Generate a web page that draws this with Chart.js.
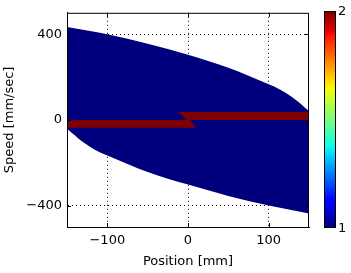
<!DOCTYPE html>
<html>
<head>
<meta charset="UTF-8">
<title>Phase plot</title>
<style>
    body { margin: 0; background: #fff; }
    .wrap { position: relative; width: 351px; height: 273px; }
    #chart { position: absolute; left: 0; top: 0; }
    .cbar {
        position: absolute;
        left: 324px; top: 11px; width: 12px; height: 217px;
        box-sizing: border-box;
        border: 1px solid #000;
        background: linear-gradient(to top, #00007f 0%, #0000ff 11%, #0000ff 12.5%, #00dbff 34%, #0bffeb 37.5%, #eeff08 64%, #ffec00 66%, #ff1300 89%, #e80000 91%, #7f0000 100%);
    }
    .cbar-label {
        position: absolute;
        left: 338px;
        font: 13px 'DejaVu Sans', sans-serif;
        line-height: 15px;
        color: #000;
    }
</style>
<script src="https://cdn.jsdelivr.net/npm/chart.js"></script>
</head>
<body>
<div class="wrap">
    <canvas id="chart" width="351" height="273"></canvas>
    <div class="cbar"></div>
</div>
<script>
// values
const xTicks = [-100, 0, 100];
const yTicks = [-400, 0, 400];
const cbarTicks = [1, 2];

// upper edge of the region
const upperPos = [-150, -100, -50, 0, 50, 100, 115, 128, 137, 143, 147, 149, 150];
const upperSpeed = [434, 400, 355, 304, 243, 166, 140, 109, 83, 64, 51, 44, 37];

// lower edge of the region
const lowerPos = [-150, -149, -147, -143, -137, -128, -115, -100, -50, 0, 50, 100, 150];
const lowerSpeed = [-37, -44, -51, -64, -83, -109, -140, -166, -243, -302, -355, -400, -437];

// value-2 bands (corners)
const leftBandPos = [-150, -150, 2, 10];
const leftBandSpeed = [-37, 0, 0, -37];
const rightBandPos = [-12, -2, 150, 150];
const rightBandSpeed = [37, 0, 0, 37];

const NAVY = '#00007f';
const DARKRED = '#7f0000';
const FONT = "'DejaVu Sans', sans-serif";

function pts(xs, ys) {
    return xs.map((x, i) => ({ x: x, y: ys[i] }));
}

function fmt(v) {
    return v < 0 ? '\u2212' + Math.abs(v) : String(v);
}

// box and inward tick marks like the original plot
const frame = {
    id: 'frame',
    afterDraw(chart) {
        const { ctx, chartArea: a, scales } = chart;
        ctx.save();
        ctx.strokeStyle = '#000';
        ctx.lineWidth = 1;
        ctx.strokeRect(a.left + 0.5, a.top + 0.5, a.right - a.left - 1, a.bottom - a.top);
        ctx.beginPath();
        xTicks.forEach(v => {
            const p = Math.round(scales.x.getPixelForValue(v)) + 0.5;
            ctx.moveTo(p, a.bottom); ctx.lineTo(p, a.bottom - 4);
            ctx.moveTo(p, a.top); ctx.lineTo(p, a.top + 4);
        });
        yTicks.forEach(v => {
            const p = Math.round(scales.y.getPixelForValue(v)) + 0.5;
            ctx.moveTo(a.left, p); ctx.lineTo(a.left + 4, p);
            ctx.moveTo(a.right, p); ctx.lineTo(a.right - 4, p);
        });
        ctx.stroke();
        ctx.restore();
    }
};

new Chart(document.getElementById('chart'), {
    type: 'line',
    data: {
        datasets: [
            {
                data: pts(upperPos, upperSpeed),
                borderWidth: 0,
                pointRadius: 0,
                cubicInterpolationMode: 'monotone',
                fill: false,
                order: 1
            },
            {
                data: pts(lowerPos, lowerSpeed),
                borderWidth: 0,
                pointRadius: 0,
                cubicInterpolationMode: 'monotone',
                fill: { target: '-1', above: NAVY, below: NAVY },
                backgroundColor: NAVY,
                order: 1
            },
            {
                data: pts(leftBandPos, leftBandSpeed),
                borderWidth: 0,
                pointRadius: 0,
                fill: 'shape',
                backgroundColor: DARKRED,
                order: 0
            },
            {
                data: pts(rightBandPos, rightBandSpeed),
                borderWidth: 0,
                pointRadius: 0,
                fill: 'shape',
                backgroundColor: DARKRED,
                order: 0
            }
        ]
    },
    options: {
        responsive: false,
        animation: false,
        devicePixelRatio: 1,
        layout: { padding: { left: 0, top: 11, right: 42, bottom: 0 } },
        plugins: {
            legend: { display: false },
            tooltip: { enabled: false }
        },
        scales: {
            x: {
                type: 'linear',
                min: -150,
                max: 150,
                z: 1,
                afterBuildTicks: s => { s.ticks = xTicks.map(v => ({ value: v })); },
                afterFit: s => { s.height = 46; },
                ticks: {
                    color: '#000',
                    font: { family: FONT, size: 13 },
                    padding: 6,
                    maxRotation: 0,
                    callback: v => fmt(v)
                },
                grid: { color: '#000', lineWidth: 1, drawTicks: false },
                border: { color: '#000', dash: [1, 3] },
                title: {
                    display: true,
                    text: 'Position [mm]',
                    color: '#000',
                    font: { family: FONT, size: 13 },
                    padding: { top: 0, bottom: 4 }
                }
            },
            y: {
                type: 'linear',
                min: -500,
                max: 500,
                z: 1,
                afterBuildTicks: s => { s.ticks = yTicks.map(v => ({ value: v })); },
                afterFit: s => { s.width = 67; },
                ticks: {
                    color: '#000',
                    font: { family: FONT, size: 13 },
                    padding: 5,
                    callback: v => fmt(v)
                },
                grid: { color: '#000', lineWidth: 1, drawTicks: false },
                border: { color: '#000', dash: [1, 3] },
                title: {
                    display: true,
                    text: 'Speed [mm/sec]',
                    color: '#000',
                    font: { family: FONT, size: 13 },
                    padding: { top: 2, bottom: 0 }
                }
            }
        }
    },
    plugins: [frame]
});

// colourbar labels
const wrap = document.querySelector('.wrap');
cbarTicks.forEach((v, i) => {
    const el = document.createElement('span');
    el.className = 'cbar-label';
    el.textContent = String(v);
    const y = 228 - (217 * i) / (cbarTicks.length - 1);
    el.style.top = (y - 8) + 'px';
    wrap.appendChild(el);
});
</script>
</body>
</html>
